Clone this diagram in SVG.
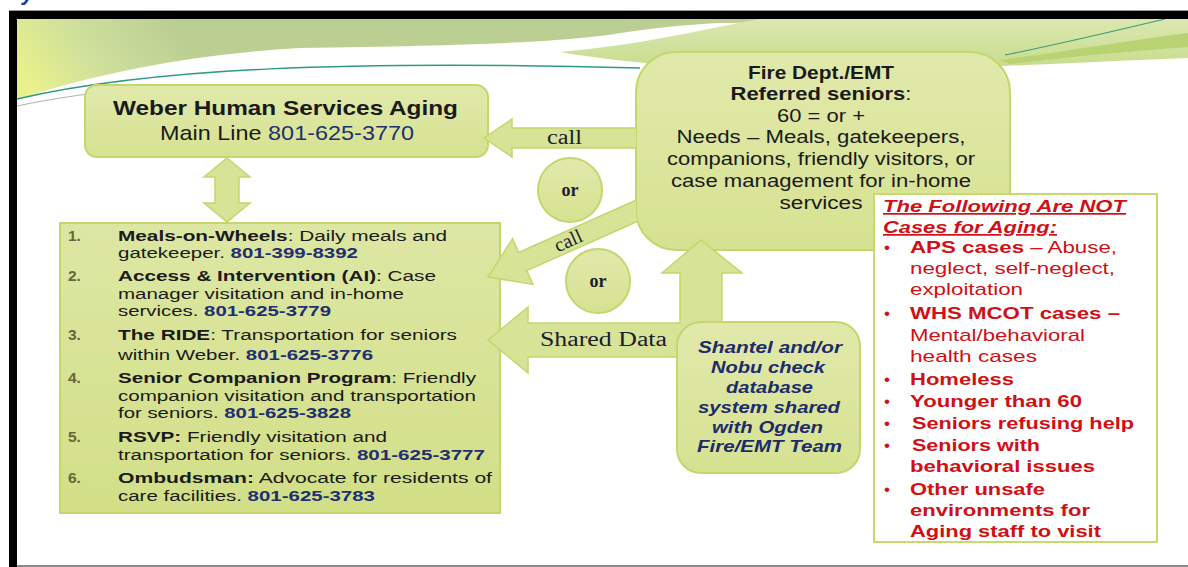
<svg xmlns="http://www.w3.org/2000/svg" width="1188" height="567" viewBox="0 0 1188 567">
  <defs>
    <linearGradient id="bandL" gradientUnits="userSpaceOnUse" x1="40" y1="100" x2="160" y2="10">
      <stop offset="0" stop-color="#e9f08c"/>
      <stop offset="0.45" stop-color="#cfe09c"/>
      <stop offset="1" stop-color="#bccf93"/>
    </linearGradient>
    <linearGradient id="bandR" gradientUnits="userSpaceOnUse" x1="0" y1="19" x2="0" y2="70">
      <stop offset="0" stop-color="#dce7b0"/>
      <stop offset="1" stop-color="#c6dc8c"/>
    </linearGradient>
    <linearGradient id="nodeFill" x1="0" y1="0" x2="0" y2="1">
      <stop offset="0" stop-color="#e1e9ab"/>
      <stop offset="1" stop-color="#d6e291"/>
    </linearGradient>
    <linearGradient id="listFill" x1="0" y1="0" x2="0" y2="1">
      <stop offset="0" stop-color="#dde7a4"/>
      <stop offset="1" stop-color="#d2df87"/>
    </linearGradient>
    <!-- everything except the Fire Dept. box, so arrow tails stop at its edge -->
    <clipPath id="outsideFire">
      <path clip-rule="evenodd" d="M0,0H1188V567H0Z M676,52H970A40,40 0 0 1 1010,92V210A40,40 0 0 1 970,250H676A40,40 0 0 1 636,210V92A40,40 0 0 1 676,52Z"/>
    </clipPath>
    <style>
      .node { fill: url(#nodeFill); stroke: #c4d66c; stroke-width: 2; }
      .arrow { fill: #d7e396; stroke: #c4d66c; stroke-width: 1.5; }
      .sans { font-family: "Liberation Sans", Arial, sans-serif; fill: #1a1a1a; }
      .serif { font-family: "Liberation Serif", "Times New Roman", serif; fill: #1c1c2c; }
      .b { font-weight: bold; }
      .ph { fill: #1f2f72; font-weight: bold; }
      .num { fill: #66663a; font-weight: bold; }
      .red { fill: #d10f14; }
      .navy { fill: #1e2b6b; }
    </style>
  </defs>

  <rect width="1188" height="567" fill="#ffffff"/>

  <!-- page header swooshes -->
  <g id="header">
    <path d="M17,19H1188V23C1000,24 800,22 720,23C660,26 630,32 600,36C540,43 450,46 300,48C180,55 80,78 17,100Z" fill="url(#bandL)"/>
    <path d="M560,52C640,45 700,30 760,19H1188V58C1080,62 960,70 800,70C700,70 620,62 560,52Z" fill="url(#bandR)"/>
    <path d="M1000,60C1060,52 1120,42 1188,33V47C1120,52 1060,58 1010,64Z" fill="#b9d272"/>
    <path d="M17,99C150,68 350,60 640,68" fill="none" stroke="#2e9a86" stroke-width="1.5"/>
    <path d="M1005,55C1060,44 1110,32 1165,19" fill="none" stroke="#3a9c70" stroke-width="1.2"/>
    <path d="M17,106C60,97 110,90 170,86" fill="none" stroke="#b0b0b0" stroke-width="1"/>
  </g>

  <!-- slide frame -->
  <g id="frame">
    <rect x="9" y="10" width="1179" height="1" fill="#9a9a9a"/>
    <rect x="9" y="11" width="1179" height="8" fill="#000000"/>
    <rect x="9" y="11" width="8" height="556" fill="#000000"/>
    <rect x="17" y="565" width="1171" height="2" fill="#8a8a8a"/>
    <text x="22" y="0" font-family="Liberation Sans, Arial, sans-serif" font-size="22" font-weight="bold" font-style="italic" fill="#1f3a93">y</text>
  </g>

  <g id="weber">
    <rect class="node" x="85" y="85" width="403" height="72" rx="12"/>
    <text class="sans b" x="113" y="115" font-size="21" textLength="345" lengthAdjust="spacingAndGlyphs">Weber Human Services Aging</text>
    <text class="sans" x="160" y="140" font-size="21" textLength="254" lengthAdjust="spacingAndGlyphs">Main Line <tspan fill="#1f2f72">801-625-3770</tspan></text>
  </g>

  <g id="programs">
    <rect x="60" y="223" width="440" height="290" fill="url(#listFill)" stroke="#c4d66c" stroke-width="2"/>
    <g class="sans" font-size="15.5">
      <text class="num" x="68" y="241">1.</text>
      <text class="num" x="68" y="281">2.</text>
      <text class="num" x="68" y="340">3.</text>
      <text class="num" x="68" y="383">4.</text>
      <text class="num" x="68" y="442">5.</text>
      <text class="num" x="68" y="483">6.</text>
      <text x="118" y="241" textLength="329" lengthAdjust="spacingAndGlyphs"><tspan class="b">Meals-on-Wheels</tspan>: Daily meals and</text>
      <text x="118" y="258" textLength="240" lengthAdjust="spacingAndGlyphs">gatekeeper. <tspan class="ph">801-399-8392</tspan></text>
      <text x="118" y="281" textLength="318" lengthAdjust="spacingAndGlyphs"><tspan class="b">Access &amp; Intervention (AI)</tspan>: Case</text>
      <text x="118" y="299" textLength="286" lengthAdjust="spacingAndGlyphs">manager visitation and in-home</text>
      <text x="118" y="316" textLength="213" lengthAdjust="spacingAndGlyphs">services. <tspan class="ph">801-625-3779</tspan></text>
      <text x="118" y="340" textLength="339" lengthAdjust="spacingAndGlyphs"><tspan class="b">The RIDE</tspan>: Transportation for seniors</text>
      <text x="118" y="360" textLength="255" lengthAdjust="spacingAndGlyphs">within Weber. <tspan class="ph">801-625-3776</tspan></text>
      <text x="118" y="383" textLength="358" lengthAdjust="spacingAndGlyphs"><tspan class="b">Senior Companion Program</tspan>: Friendly</text>
      <text x="118" y="401" textLength="358" lengthAdjust="spacingAndGlyphs">companion visitation and transportation</text>
      <text x="118" y="418" textLength="233" lengthAdjust="spacingAndGlyphs">for seniors. <tspan class="ph">801-625-3828</tspan></text>
      <text x="118" y="442" textLength="269" lengthAdjust="spacingAndGlyphs"><tspan class="b">RSVP:</tspan> Friendly visitation and</text>
      <text x="118" y="460" textLength="367" lengthAdjust="spacingAndGlyphs">transportation for seniors. <tspan class="ph">801-625-3777</tspan></text>
      <text x="118" y="483" textLength="374" lengthAdjust="spacingAndGlyphs"><tspan class="b">Ombudsman:</tspan> Advocate for residents of</text>
      <text x="118" y="501" textLength="257" lengthAdjust="spacingAndGlyphs">care facilities. <tspan class="ph">801-625-3783</tspan></text>
    </g>
  </g>

  <g id="fire-dept">
    <rect class="node" x="636" y="52" width="374" height="198" rx="40"/>
    <g class="sans" font-size="17.5">
      <text class="b" x="748" y="79" textLength="146" lengthAdjust="spacingAndGlyphs">Fire Dept./EMT</text>
      <text x="730.5" y="100" textLength="181" lengthAdjust="spacingAndGlyphs"><tspan class="b">Referred seniors</tspan>:</text>
      <text x="777" y="122" textLength="88" lengthAdjust="spacingAndGlyphs">60 = or +</text>
      <text x="676.5" y="143" textLength="289" lengthAdjust="spacingAndGlyphs">Needs – Meals, gatekeepers,</text>
      <text x="667" y="165" textLength="308" lengthAdjust="spacingAndGlyphs">companions, friendly visitors, or</text>
      <text x="671" y="187" textLength="300" lengthAdjust="spacingAndGlyphs">case management for in-home</text>
      <text x="779.5" y="209" textLength="83" lengthAdjust="spacingAndGlyphs">services</text>
    </g>
  </g>

  <g id="or-1">
    <circle class="node" cx="570" cy="190" r="32"/>
    <text class="serif b" x="570" y="196" font-size="18" text-anchor="middle">or</text>
  </g>
  <g id="or-2">
    <circle class="node" cx="598" cy="281" r="32"/>
    <text class="serif b" x="598" y="287" font-size="18" text-anchor="middle">or</text>
  </g>

  <g id="connectors">
    <!-- Weber <-> program list -->
    <path class="arrow" d="M227,158L250,177H239V203H250L227,222L204,203H215V177H204Z"/>
    <!-- Fire Dept. calls Weber main line -->
    <g clip-path="url(#outsideFire)">
      <path class="arrow" d="M484,138L512,119V128H660V148H512V157Z"/>
      <text class="serif" x="547" y="144" font-size="20" textLength="35" lengthAdjust="spacingAndGlyphs">call</text>
    </g>
    <!-- Fire Dept. calls a program directly -->
    <g clip-path="url(#outsideFire)">
      <g transform="translate(488,277) rotate(-24)">
        <path class="arrow" d="M0,0L38,-25V-10H200V10H38V25Z"/>
        <text class="serif" x="88" y="6" font-size="20" text-anchor="middle">call</text>
      </g>
    </g>
    <!-- shared database: to the programs and to Fire Dept. -->
    <path class="arrow" d="M488,340L528,307V323H680V273H662L701,240L742,273H722V357H528V373Z"/>
    <text class="serif" x="540" y="346" font-size="20" textLength="127" lengthAdjust="spacingAndGlyphs" fill="#2a3166">Shared Data</text>
  </g>

  <g id="shared-database">
    <rect class="node" x="677" y="322" width="183" height="151" rx="24"/>
    <g class="sans navy b" font-size="16.5" font-style="italic">
      <text x="698" y="353" textLength="144" lengthAdjust="spacingAndGlyphs">Shantel and/or</text>
      <text x="711" y="373" textLength="114" lengthAdjust="spacingAndGlyphs">Nobu check</text>
      <text x="726" y="393" textLength="87" lengthAdjust="spacingAndGlyphs">database</text>
      <text x="698" y="413" textLength="142" lengthAdjust="spacingAndGlyphs">system shared</text>
      <text x="712" y="433" textLength="111" lengthAdjust="spacingAndGlyphs">with Ogden</text>
      <text x="697" y="452" textLength="145" lengthAdjust="spacingAndGlyphs">Fire/EMT Team</text>
    </g>
  </g>

  <g id="not-aging">
    <rect x="874" y="194" width="283" height="348" fill="#ffffff" stroke="#c8da6e" stroke-width="2"/>
    <g class="sans red" font-size="17">
      <text class="b" x="883" y="212" font-style="italic" text-decoration="underline" textLength="243" lengthAdjust="spacingAndGlyphs">The Following Are NOT</text>
      <text class="b" x="883" y="233" font-style="italic" text-decoration="underline" textLength="174" lengthAdjust="spacingAndGlyphs">Cases for Aging:</text>
      <text x="884" y="253">•</text>
      <text x="884" y="319">•</text>
      <text x="884" y="385">•</text>
      <text x="884" y="407">•</text>
      <text x="884" y="429">•</text>
      <text x="884" y="451">•</text>
      <text x="884" y="495">•</text>
      <text x="910" y="253" textLength="207" lengthAdjust="spacingAndGlyphs"><tspan class="b">APS cases</tspan> – Abuse,</text>
      <text x="910" y="274" textLength="205" lengthAdjust="spacingAndGlyphs">neglect, self-neglect,</text>
      <text x="910" y="295" textLength="113" lengthAdjust="spacingAndGlyphs">exploitation</text>
      <text class="b" x="910" y="319" textLength="210" lengthAdjust="spacingAndGlyphs">WHS MCOT cases –</text>
      <text x="910" y="341" textLength="175" lengthAdjust="spacingAndGlyphs">Mental/behavioral</text>
      <text x="910" y="362" textLength="127" lengthAdjust="spacingAndGlyphs">health cases</text>
      <text class="b" x="910" y="385" textLength="104" lengthAdjust="spacingAndGlyphs">Homeless</text>
      <text class="b" x="910" y="407" textLength="172" lengthAdjust="spacingAndGlyphs">Younger than 60</text>
      <text class="b" x="912" y="429" textLength="222" lengthAdjust="spacingAndGlyphs">Seniors refusing help</text>
      <text class="b" x="912" y="451" textLength="128" lengthAdjust="spacingAndGlyphs">Seniors with</text>
      <text class="b" x="910" y="472" textLength="185" lengthAdjust="spacingAndGlyphs">behavioral issues</text>
      <text class="b" x="910" y="495" textLength="135" lengthAdjust="spacingAndGlyphs">Other unsafe</text>
      <text class="b" x="910" y="516" textLength="180" lengthAdjust="spacingAndGlyphs">environments for</text>
      <text class="b" x="910" y="537" textLength="191" lengthAdjust="spacingAndGlyphs">Aging staff to visit</text>
    </g>
  </g>
</svg>
